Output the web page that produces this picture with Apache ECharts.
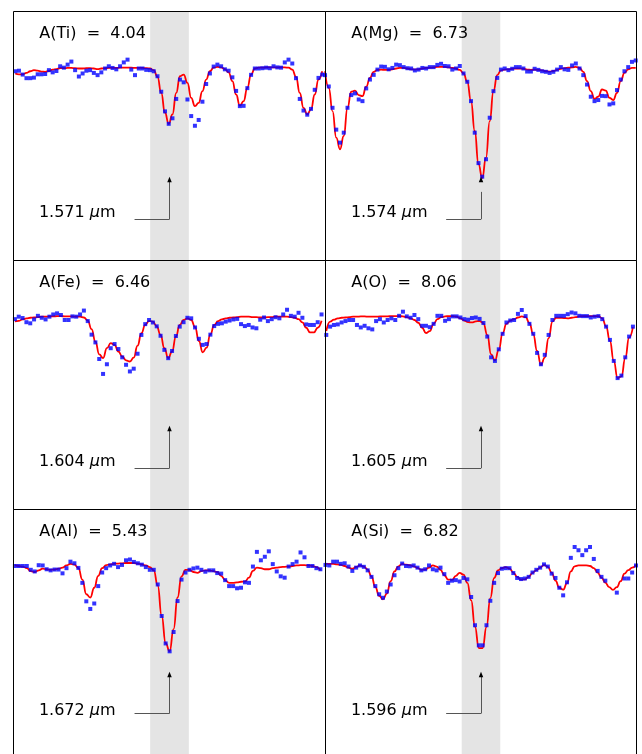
<!DOCTYPE html>
<html>
<head>
<meta charset="utf-8">
<script src="https://cdn.jsdelivr.net/npm/echarts@6/dist/echarts.min.js"></script>
<style>
  html, body { margin: 0; padding: 0; background: #fff; }
  #chart { width: 642px; height: 754px; }
</style>
</head>
<body>
<div id="chart"></div>
<script>
// Normalised flux around six diagnostic lines: observed pixels (blue) and
// best-fitting synthetic spectrum (red). x = offset from line centre in Angstrom.

const elementNames = ['Ti', 'Mg', 'Fe', 'O', 'Al', 'Si'];
const abundances = [4.04, 6.73, 6.46, 8.06, 5.43, 6.82];
const lineCentres = ['1.571', '1.574', '1.604', '1.605', '1.672', '1.596'];

// wavelength grid of each window: first pixel offset and pixel step (Angstrom)
const gridStart = [-9.89, -10.03, -9.91, -9.95, -9.91, -10.0];
const gridStep = [0.2400, 0.2407, 0.2457, 0.2465, 0.2543, 0.2465];

const tiObs = [0.984,0.986,0.972,0.959,0.959,0.961,0.973,0.973,0.974,0.988,
  0.980,0.985,1.002,0.997,1.008,1.019,0.988,0.965,0.976,0.986,
  0.988,0.978,0.970,0.980,0.994,1.002,0.996,0.991,1.002,1.016,
  1.026,0.990,0.970,0.994,0.994,0.989,0.988,0.984,0.966,0.910,
  0.839,0.794,0.814,0.884,0.954,0.944,0.882,0.822,0.787,0.808,
  0.874,0.938,0.976,1.001,1.008,1.002,0.991,0.986,0.962,0.913,
  0.858,0.859,0.923,0.971,0.994,0.994,0.995,0.997,0.995,1.002,
  0.998,0.997,1.016,1.026,1.012,0.959,0.884,0.842,0.827,0.848,
  0.917,0.960,0.972];
const tiModel = [0.976,0.973,0.973,0.978,0.984,0.988,0.986,0.983,0.982,0.985,
  0.990,0.992,0.995,0.995,0.996,0.996,0.995,0.994,0.994,0.995,
  0.995,0.994,0.992,0.994,0.995,0.996,0.996,0.996,0.997,0.997,
  0.997,0.997,0.996,0.996,0.996,0.995,0.994,0.988,0.964,0.906,
  0.834,0.794,0.828,0.906,0.966,0.972,0.942,0.888,0.858,0.870,
  0.912,0.954,0.984,0.997,1.000,0.998,0.992,0.980,0.948,0.900,
  0.860,0.876,0.924,0.972,0.994,0.997,0.997,0.998,0.998,0.998,
  0.998,0.998,0.998,0.997,0.990,0.964,0.906,0.852,0.828,0.846,
  0.900,0.954,0.984];

const mgObs = [0.970,0.929,0.852,0.773,0.726,0.762,0.852,0.898,0.904,0.882,
  0.876,0.922,0.954,0.971,0.990,1.001,1.000,0.991,0.996,1.008,
  1.006,0.999,0.995,0.994,0.987,0.990,0.996,0.994,0.999,0.999,
  1.007,1.011,1.003,1.002,0.990,0.994,1.003,0.976,0.946,0.876,
  0.762,0.652,0.603,0.666,0.816,0.912,0.960,0.990,0.994,0.988,
  0.993,0.999,0.999,0.994,0.983,0.983,0.993,0.989,0.984,0.982,
  0.978,0.982,0.990,0.999,0.991,0.989,1.005,1.012,0.994,0.970,
  0.936,0.892,0.876,0.880,0.895,0.894,0.864,0.868,0.916,0.954,
  0.984,0.999,1.018,1.023];
const mgModel = [0.984,0.924,0.840,0.744,0.702,0.750,0.852,0.910,0.914,0.898,
  0.894,0.928,0.960,0.982,0.989,0.990,0.989,0.989,0.991,0.994,
  0.996,0.996,0.994,0.991,0.990,0.991,0.994,0.996,0.997,0.998,
  1.000,1.000,1.000,0.998,0.996,0.994,0.989,0.976,0.946,0.876,
  0.768,0.648,0.598,0.672,0.804,0.912,0.970,0.987,0.990,0.991,
  0.993,0.994,0.994,0.993,0.990,0.989,0.990,0.989,0.987,0.984,
  0.983,0.985,0.989,0.993,0.995,0.997,0.998,1.000,0.996,0.982,
  0.948,0.912,0.884,0.892,0.918,0.914,0.888,0.880,0.906,0.948,
  0.978,0.991,0.996,0.996];

const feObs = [0.988,0.997,0.992,0.977,0.973,0.987,1.000,0.993,0.987,0.997,
  1.005,1.009,1.003,0.985,0.985,0.998,0.997,1.005,1.019,0.981,
  0.932,0.904,0.844,0.790,0.825,0.883,0.898,0.880,0.850,0.823,
  0.799,0.809,0.863,0.931,0.970,0.985,0.976,0.962,0.928,0.877,
  0.847,0.873,0.927,0.961,0.977,0.993,0.991,0.958,0.917,0.895,
  0.898,0.932,0.963,0.971,0.973,0.979,0.983,0.987,0.989,0.970,
  0.963,0.967,0.958,0.955,0.986,0.994,0.981,0.988,0.995,0.991,
  1.005,1.022,1.000,0.997,1.011,0.993,0.969,0.967,0.967,0.977,
  1.005];
const feModel = [0.980,0.982,0.987,0.991,0.993,0.994,0.995,0.997,0.997,0.998,
  0.998,0.999,0.999,0.998,0.998,0.998,0.997,0.997,0.994,0.983,
  0.952,0.907,0.861,0.847,0.883,0.901,0.895,0.871,0.853,0.839,
  0.835,0.849,0.892,0.937,0.967,0.982,0.979,0.962,0.931,0.883,
  0.847,0.871,0.925,0.967,0.985,0.991,0.985,0.959,0.909,0.868,
  0.885,0.933,0.967,0.981,0.987,0.991,0.993,0.994,0.995,0.997,
  0.997,0.997,0.995,0.995,0.994,0.994,0.995,0.995,0.997,0.997,
  0.997,0.997,0.995,0.993,0.988,0.976,0.957,0.940,0.940,0.957,
  0.982];

const oObs = [0.931,0.961,0.967,0.969,0.976,0.981,0.985,0.985,0.967,0.958,
  0.964,0.955,0.951,0.981,0.988,0.976,0.985,0.991,0.985,1.000,
  1.015,0.998,0.993,1.003,0.988,0.964,0.964,0.959,0.971,1.000,
  1.000,0.982,0.988,0.998,0.998,0.994,0.988,0.986,0.992,0.994,
  0.989,0.974,0.925,0.850,0.837,0.879,0.935,0.976,0.983,0.985,
  1.007,1.021,0.999,0.971,0.935,0.866,0.825,0.859,0.931,0.985,
  1.000,1.000,1.000,1.006,1.012,1.009,1.000,0.999,0.999,0.994,
  0.997,0.999,0.988,0.961,0.913,0.837,0.775,0.784,0.850,0.925,
  0.961];
const oModel = [0.945,0.979,0.986,0.991,0.993,0.994,0.995,0.997,0.997,0.998,
  0.998,0.997,0.997,0.997,0.998,0.998,0.998,0.999,0.999,0.999,
  0.998,0.995,0.991,0.985,0.975,0.957,0.938,0.945,0.971,0.988,
  0.995,0.998,0.999,0.999,0.997,0.991,0.983,0.977,0.976,0.980,
  0.981,0.973,0.931,0.861,0.839,0.877,0.937,0.971,0.983,0.988,
  0.994,0.998,0.995,0.974,0.933,0.873,0.823,0.849,0.919,0.979,
  0.993,0.993,0.992,0.991,0.993,0.995,0.998,0.999,0.999,0.999,
  0.999,0.999,0.991,0.962,0.909,0.837,0.775,0.781,0.847,0.921,
  0.959];

const alObs = [0.992,0.992,0.992,0.992,0.978,0.972,0.995,0.994,0.980,0.976,
  0.979,0.979,0.965,0.984,1.008,1.002,0.985,0.930,0.862,0.834,
  0.854,0.918,0.968,0.984,0.994,1.000,0.988,0.996,1.013,1.016,
  1.007,1.002,0.997,0.988,0.978,0.978,0.924,0.808,0.707,0.678,
  0.749,0.863,0.942,0.968,0.978,0.983,0.986,0.978,0.971,0.976,
  0.976,0.966,0.964,0.940,0.918,0.918,0.910,0.912,0.932,0.930,
  0.990,1.044,1.013,1.026,1.046,0.999,0.972,0.954,0.949,0.990,
  0.999,1.008,1.042,1.024,0.992,0.992,0.984,0.980];
const alModel = [0.995,0.992,0.990,0.984,0.973,0.970,0.976,0.982,0.980,0.978,
  0.979,0.982,0.986,0.994,1.000,0.997,0.984,0.942,0.888,0.876,
  0.912,0.956,0.984,0.995,0.998,1.000,1.001,1.002,1.003,1.003,
  1.003,1.001,0.998,0.994,0.988,0.976,0.920,0.808,0.708,0.678,
  0.760,0.876,0.954,0.978,0.978,0.970,0.967,0.973,0.976,0.976,
  0.973,0.970,0.956,0.940,0.930,0.930,0.932,0.934,0.935,0.949,
  0.974,0.986,0.984,0.980,0.980,0.984,0.986,0.988,0.989,0.990,
  0.992,0.994,0.995,0.995,0.994,0.992,0.988,0.976];

// null = masked pixel
const siObs = [0.996,0.994,1.008,1.008,1.000,1.002,0.990,0.974,0.986,0.994,
  0.989,0.976,0.952,0.918,0.888,0.875,0.898,0.924,0.958,0.984,
  1.001,0.992,0.991,0.994,0.986,0.976,0.980,0.994,0.980,0.976,
  0.986,0.962,0.930,0.938,0.940,0.935,0.948,0.943,0.878,0.774,
  0.700,0.700,0.774,0.864,0.930,0.966,0.982,0.984,0.984,0.966,
  0.948,0.944,0.946,0.952,0.968,0.978,0.986,0.998,0.990,0.964,
  0.948,0.912,0.884,0.932,1.022,1.062,1.050,1.032,1.050,1.062,
  1.018,0.974,0.952,0.938,null,null,0.894,null,0.946,0.946,
  0.968,0.994];
const siModel = [1.000,1.000,1.000,0.998,0.996,0.992,0.986,0.982,0.989,0.994,
  0.990,0.979,0.954,0.914,0.882,0.869,0.890,0.936,0.972,0.991,
  1.000,0.997,0.995,0.991,0.985,0.978,0.979,0.986,0.994,0.990,
  0.978,0.958,0.942,0.941,0.956,0.967,0.960,0.930,0.866,0.768,
  0.690,0.690,0.768,0.874,0.948,0.976,0.984,0.988,0.983,0.968,
  0.952,0.942,0.943,0.952,0.967,0.977,0.986,0.996,0.989,0.968,
  0.938,0.912,0.905,0.929,0.972,0.991,0.994,0.994,0.994,0.992,
  0.984,0.968,0.949,0.931,0.914,0.904,0.914,0.936,0.964,0.977,
  0.986,0.996];

const observed = [tiObs, mgObs, feObs, oObs, alObs, siObs];
const synthetic = [tiModel, mgModel, feModel, oModel, alModel, siModel];

// panel layout (pixels)
const colLeft = [13.5, 325.5];
const colWidth = [312, 311];
const rowTop = [11.5, 260.5, 509.5];
const panelHeight = 249;

// axis ranges and marker geometry (data units)
const xRange = [-10, 10];
const yRange = [0.3, 1.2];
const bandHalfWidth = 1.24;
const arrowFootX = -2.24;
const arrowFootY = 0.449;
const arrowTipY = 0.603;
const shaftTopY = [0.585, 0.548, 0.585, 0.585, 0.585, 0.585];

const FONT = '"DejaVu Sans", "Liberation Sans", sans-serif';

function toPairs(values, p) {
  const out = [];
  values.forEach((v, i) => {
    if (v !== null) out.push([gridStart[p] + i * gridStep[p], v]);
  });
  return out;
}

const option = {
  animation: false,
  backgroundColor: '#fff',
  grid: [], xAxis: [], yAxis: [], series: [], graphic: []
};

elementNames.forEach((el, p) => {
  const col = p % 2, row = Math.floor(p / 2);
  const left = colLeft[col], top = rowTop[row], width = colWidth[col];

  option.grid.push({ left, top, width, height: panelHeight, show: false });
  option.xAxis.push({ gridIndex: p, type: 'value', min: xRange[0], max: xRange[1], show: false });
  option.yAxis.push({ gridIndex: p, type: 'value', min: yRange[0], max: yRange[1], show: false });

  // synthetic spectrum, with the line window, and the pointer arrow as markers
  option.series.push({
    type: 'line', xAxisIndex: p, yAxisIndex: p,
    data: toPairs(synthetic[p], p),
    showSymbol: false, smooth: 0.5, smoothMonotone: 'x',
    lineStyle: { color: '#ff0000', width: 1.8 },
    z: 2, silent: true, clip: true,
    markArea: {
      silent: true, z: 1,
      itemStyle: { color: '#e4e4e4' },
      label: { show: false },
      data: [[{ xAxis: -bandHalfWidth }, { xAxis: bandHalfWidth }]]
    },
    markLine: {
      silent: true, z: 5, symbol: 'none', animation: false,
      label: { show: false },
      lineStyle: { color: '#555', width: 1, type: 'solid' },
      data: [
        [{ coord: [arrowFootX, arrowFootY] }, { coord: [0, arrowFootY] }],
        [{ coord: [0, arrowFootY] }, { coord: [0, shaftTopY[p]] }]
      ]
    },
    markPoint: {
      silent: true, z: 6, symbol: 'triangle', symbolSize: [4.5, 5.5],
      symbolOffset: [0, '50%'],
      itemStyle: { color: '#000' },
      label: { show: false },
      data: [{ coord: [0, arrowTipY] }]
    }
  });

  // observed pixels
  option.series.push({
    type: 'scatter', xAxisIndex: p, yAxisIndex: p,
    data: toPairs(observed[p], p),
    symbol: 'rect', symbolSize: 4,
    itemStyle: { color: '#0000ff' },
    z: 3, silent: true, clip: false
  });

  // frame
  option.graphic.push({
    type: 'rect', silent: true, z: 100,
    shape: { x: left, y: top, width, height: panelHeight },
    style: { fill: 'none', stroke: '#000', lineWidth: 1 }
  });
  // abundance label
  option.graphic.push({
    type: 'text', silent: true, z: 100,
    x: left + 25.8, y: top + 22.5,
    style: {
      text: 'A(' + el + ')  =  ' + abundances[p].toFixed(2),
      font: '16px ' + FONT, fill: '#000', verticalAlign: 'middle'
    }
  });
  // wavelength label
  option.graphic.push({
    type: 'text', silent: true, z: 100,
    x: left + 25.4, y: top + 201,
    style: {
      text: '{n|' + lineCentres[p] + ' }{i|\u03bc}{n|m}',
      verticalAlign: 'middle',
      rich: {
        n: { fontSize: 16, fontFamily: FONT, fill: '#000' },
        i: { fontSize: 16, fontFamily: FONT, fontStyle: 'italic', fill: '#000' }
      }
    }
  });
});

const chart = echarts.init(document.getElementById('chart'), null, { renderer: 'canvas' });
chart.setOption(option);
</script>
</body>
</html>
